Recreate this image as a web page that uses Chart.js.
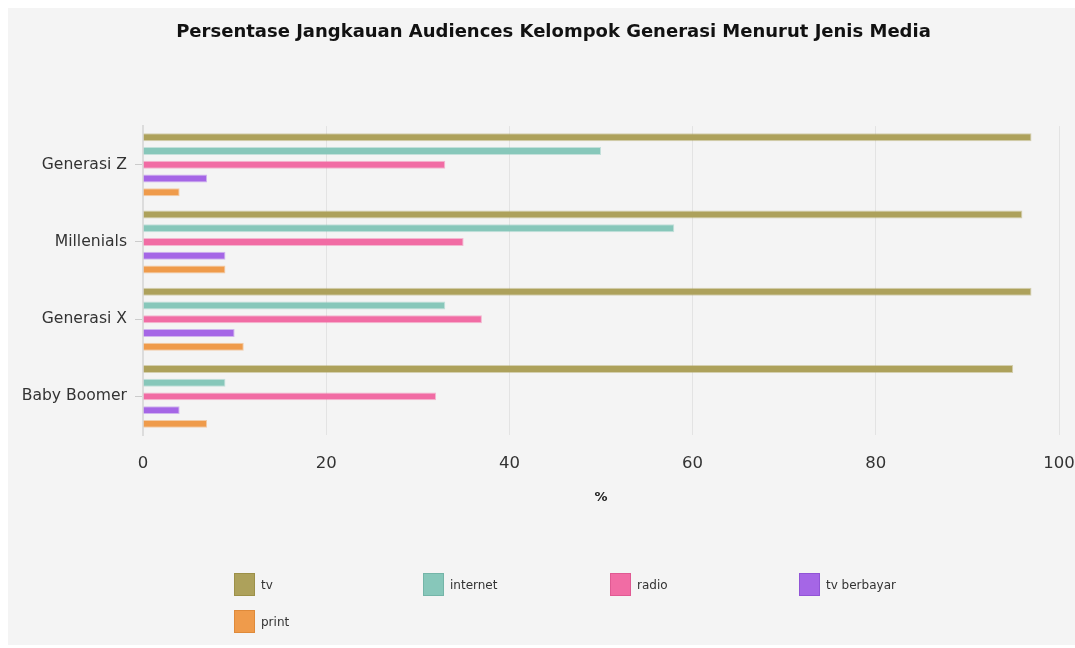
<!DOCTYPE html>
<html>
<head>
<meta charset="utf-8">
<script src="https://cdn.jsdelivr.net/npm/chart.js@4/dist/chart.umd.min.js"></script>
<style>
  html, body { margin: 0; padding: 0; background: #ffffff; overflow: hidden; }
  #wrap { position: absolute; left: 8px; top: 8px; width: 1091px; height: 637px; background: #f4f4f4; }
  canvas { display: block; }
</style>
</head>
<body>
<div id="wrap"><canvas id="c" width="1091" height="637"></canvas></div>
<script>
const categories = ["Generasi Z", "Millenials", "Generasi X", "Baby Boomer"];
const seriesNames = ["tv", "internet", "radio", "tv berbayar", "print"];
const tvValues = [97, 96, 97, 95];
const internetValues = [50, 58, 33, 9];
const radioValues = [33, 35, 37, 32];
const tvBerbayarValues = [7, 9, 10, 4];
const printValues = [4, 9, 11, 7];
const xTicks = [0, 20, 40, 60, 80, 100];
const titleText = "Persentase Jangkauan Audiences Kelompok Generasi Menurut Jenis Media";
const axisTitle = "%";

const fills = ["#ada15b", "#87c7ba", "#f16ca4", "#a566e6", "#ef9b4b"];
const borders = ["rgba(173,161,91,0.45)", "rgba(135,199,186,0.45)", "rgba(241,108,164,0.45)", "rgba(165,102,230,0.45)", "rgba(239,155,75,0.45)"];
const legendBorders = ["#9c9048", "#74b5a8", "#e05a93", "#9154d6", "#df8a3a"];

const seriesValues = [tvValues, internetValues, radioValues, tvBerbayarValues, printValues];
const datasets = seriesNames.map((n, i) => ({
  label: n,
  data: seriesValues[i],
  backgroundColor: fills[i],
  borderColor: borders[i],
  borderWidth: 1,
  categoryPercentage: 0.89,
  barPercentage: 0.58
}));

const FONT = "'DejaVu Sans', Verdana, sans-serif";

const legendPlugin = {
  id: 'gridLegend',
  afterDraw(chart) {
    const ctx = chart.ctx;
    const cols = [226, 415, 602, 791];
    const rows = [565, 602];
    ctx.save();
    ctx.font = "12px " + FONT;
    ctx.textBaseline = "middle";
    ctx.textAlign = "left";
    chart.data.datasets.forEach((ds, i) => {
      const x = cols[i % 4];
      const y = rows[Math.floor(i / 4)];
      ctx.fillStyle = ds.backgroundColor;
      ctx.fillRect(x, y, 21, 23);
      ctx.strokeStyle = legendBorders[i];
      ctx.lineWidth = 1;
      ctx.strokeRect(x + 0.5, y + 0.5, 20, 22);
      ctx.fillStyle = "#333333";
      ctx.fillText(ds.label, x + 27, y + 13);
    });
    ctx.restore();
  }
};

new Chart(document.getElementById('c'), {
  type: 'bar',
  data: { labels: categories, datasets },
  plugins: [legendPlugin],
  options: {
    indexAxis: 'y',
    responsive: false,
    animation: false,
    layout: { padding: { top: 0, left: 0, right: 0, bottom: 140 } },
    plugins: {
      legend: { display: false },
      tooltip: { enabled: false },
      title: {
        display: true,
        text: titleText,
        color: "#111111",
        font: { family: FONT, size: 18, weight: 'bold' },
        padding: { top: 13.5, bottom: 83 }
      }
    },
    scales: {
      x: {
        min: 0, max: 100,
        afterBuildTicks(scale) { scale.ticks = xTicks.map(v => ({ value: v })); },
        afterFit(scale) { scale.height = 70; scale.paddingLeft = 0; scale.paddingRight = 40; },
        grid: { color: "#e3e3e3", drawTicks: false, lineWidth: 1 },
        border: { display: false },
        ticks: { color: "#333333", font: { family: FONT, size: 16.5 }, padding: 19 },
        title: { display: true, text: axisTitle, color: "#222222", font: { family: FONT, size: 13, weight: 'bold' }, padding: { top: 0, bottom: 0 } }
      },
      y: {
        afterFit(scale) { scale.width = 135; scale.paddingTop = 0; scale.paddingBottom = 0; },
        grid: { drawOnChartArea: false, offset: false, color: "#cccccc", tickLength: 8 },
        border: { display: true, color: "#dcdcdc", width: 2 },
        ticks: { color: "#333333", font: { family: FONT, size: 15.6 }, padding: 8 }
      }
    }
  }
});
</script>
</body>
</html>
